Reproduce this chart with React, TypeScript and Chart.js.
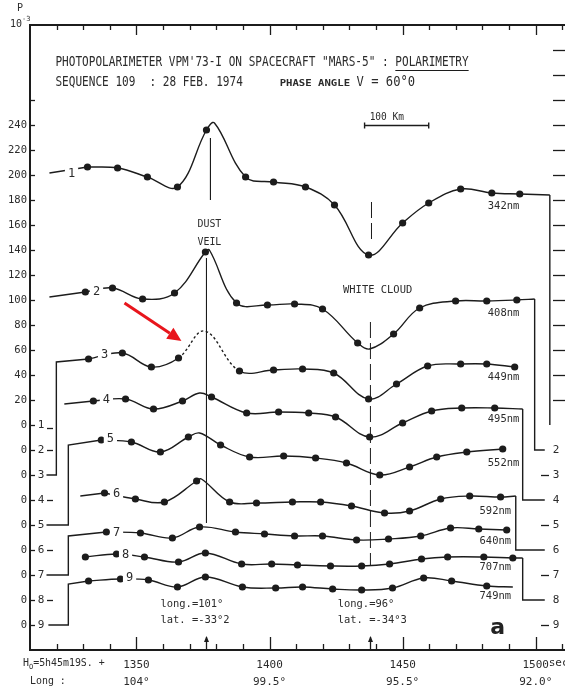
import { useEffect, useRef } from 'react';
import { Chart, registerables } from 'chart.js';

Chart.register(...registerables);

const MONO = '"DejaVu Sans Mono", "Liberation Mono", monospace';
const INK = '#1c1c1c';
const TEXT = '#2b2b2b';

// ---- measured points: time (s after H0) and polarization (10^-3, stacked offsets) ----
const sec1 = [1331.6, 1342.9, 1354.1, 1365.4, 1376.3, 1391.0, 1401.5, 1413.5, 1424.4, 1437.2, 1450.0, 1459.8, 1471.8, 1483.5, 1494.0];
const val1 = [206.4, 205.6, 198.4, 190.4, 236.0, 198.4, 194.4, 190.4, 176.0, 136.0, 161.6, 177.6, 188.8, 185.6, 184.8];
const sec2 = [1330.8, 1341.0, 1352.3, 1364.3, 1375.9, 1387.6, 1399.2, 1409.4, 1419.9, 1433.1, 1446.6, 1456.4, 1469.9, 1481.6, 1492.9];
const val2 = [106.4, 109.6, 100.8, 105.6, 138.4, 97.6, 96.0, 96.8, 92.8, 65.6, 72.8, 93.6, 99.2, 99.2, 100.0];
const sec3 = [1332.0, 1344.7, 1355.6, 1365.8, 1388.7, 1401.5, 1412.4, 1424.1, 1437.2, 1447.7, 1459.4, 1471.8, 1481.6, 1492.1];
const val3 = [52.8, 57.6, 46.4, 53.6, 43.2, 44.0, 44.8, 41.6, 20.8, 32.8, 47.2, 48.8, 48.8, 46.4];
const sec4 = [1333.8, 1345.9, 1356.4, 1367.3, 1378.2, 1391.4, 1403.4, 1414.7, 1424.8, 1437.6, 1450.0, 1460.9, 1472.2, 1484.6];
const val4 = [19.2, 20.8, 12.8, 19.2, 22.4, 9.6, 10.4, 9.6, 6.4, -9.6, 1.6, 11.2, 13.6, 13.6];
const sec5 = [1336.8, 1348.1, 1359.0, 1369.5, 1381.6, 1392.5, 1405.3, 1417.3, 1428.9, 1441.4, 1452.6, 1462.8, 1474.1, 1487.6];
const val5 = [-12.0, -13.6, -21.6, -9.6, -16.0, -25.6, -24.8, -26.4, -30.4, -40.0, -33.6, -25.6, -21.6, -19.2];
const sec6 = [1338.0, 1349.6, 1360.5, 1372.6, 1385.0, 1395.1, 1408.6, 1419.2, 1430.8, 1443.2, 1452.6, 1464.3, 1475.2, 1486.8];
const val6 = [-54.4, -59.2, -61.6, -44.8, -61.6, -62.4, -61.6, -61.6, -64.8, -70.4, -68.8, -59.2, -56.8, -57.6];
const sec7 = [1338.7, 1351.5, 1363.5, 1373.7, 1387.2, 1398.1, 1409.4, 1419.9, 1432.7, 1444.7, 1456.8, 1468.0, 1478.6, 1489.1];
const val7 = [-85.6, -86.4, -90.4, -81.6, -85.6, -87.2, -88.8, -88.8, -92.0, -91.2, -88.8, -82.4, -83.2, -84.0];
const sec8 = [1330.8, 1342.5, 1353.0, 1365.8, 1375.9, 1389.5, 1400.8, 1410.5, 1422.9, 1434.6, 1445.1, 1457.1, 1466.9, 1480.5, 1491.4];
const val8 = [-105.6, -103.2, -105.6, -109.6, -102.4, -111.2, -111.2, -112.0, -112.8, -112.8, -111.2, -107.2, -105.6, -105.6, -106.4];
const sec9 = [1332.0, 1344.0, 1354.5, 1365.4, 1375.9, 1389.8, 1402.3, 1412.4, 1423.7, 1434.6, 1446.2, 1457.9, 1468.4, 1481.6];
const val9 = [-124.8, -123.2, -124.0, -129.6, -121.6, -129.6, -130.4, -129.6, -131.2, -132.0, -130.4, -122.4, -124.8, -128.8];

// extra vertices of the drawn curves (peaks / ends, no measurement dot)
const bend1 = [[1379.3, 241.6], [1505.3, 184.0]];
const bend2 = [[1377.4, 140.0], [1437.6, 60.8], [1499.6, 100.8]];
const bend3 = [[1375.6, 75.2]];
const bend4 = [[1373.7, 25.6], [1495.1, 12.8]];
const bend5 = [[1373.7, -6.4]];
const bend6 = [[1374.4, -43.2], [1492.5, -56.8]];
const bend7: number[][] = [];
const bend8 = [[1495.1, -106.4]];
const bend9 = [[1491.4, -129.6]];

// lead-in lines (to first dot) and tail connectors (from curve end to zero level)
const lead1 = [[1317.3, 201.6]];
const lead2 = [[1317.3, 102.4]];
const lead3 = [[1316.2, -40], [1319.9, -40], [1319.9, 50.4]];
const lead4 = [[1322.9, 16.8]];
const lead5 = [[1316.2, -80], [1324.4, -80], [1324.4, -16]];
const lead6 = [[1328.9, -56.8]];
const lead7 = [[1316.2, -120], [1324.4, -120], [1324.4, -88.8]];
const lead8: number[][] = [];
const lead9 = [[1316.9, -160], [1324.4, -160], [1324.4, -127.2]];
const tail1 = [[1505.3, 0]];
const tail2 = [[1499.6, -20], [1503.4, -20]];
const tail4 = [[1495.1, -60], [1503.4, -60]];
const tail6 = [[1492.5, -100], [1503.4, -100]];
const tail8 = [[1495.1, -140], [1503.4, -140]];
const none: number[][] = [];

// dashed (uncertain) part of curve 3
const dash3 = [1365.8, 1388.7];

// curve numbers and wavelengths
const curveNo = ['1', '2', '3', '4', '5', '6', '7', '8', '9'];
const noSec = [1325.6, 1335.0, 1338.0, 1338.7, 1340.2, 1342.5, 1342.5, 1345.9, 1347.4];
const noVal = [201.0, 106.4, 56.0, 20.0, -11.2, -55.2, -86.4, -104.0, -122.4];
const waveNames = ['342nm', '408nm', '449nm', '495nm', '552nm', '592nm', '640nm', '707nm', '749nm'];
const waveSec = [1482.0, 1482.0, 1482.0, 1482.0, 1482.0, 1478.9, 1478.9, 1478.9, 1478.9];
const waveVal = [175.2, 89.6, 38.4, 4.8, -30.4, -68.8, -92.8, -113.6, -136.8];

// zero levels of the 9 curves
const levelNames = ['1', '2', '3', '4', '5', '6', '7', '8', '9'];
const levelVal = [0, -20, -40, -60, -80, -100, -120, -140, -160];

// x axis
const xTickVals = [1350, 1400, 1450, 1500];
const xTickLabels = ['1350', '1400', '1450', '1500'];
const longLabels = ['104°', '99.5°', '95.5°', '92.0°'];
const featureSec = [1376.3, 1437.9];

// feature marker lines
const dustUpper = [[1377.8, 229.6], [1377.8, 180]];
const dustLower = [[1376.3, 133.6], [1376.3, -78.4]];
const whiteUpper = [[1438.3, 178.4], [1438.3, 146.4]];
const whiteLower = [[1437.9, 82.4], [1437.9, -112]];
const scaleBar = [1435.7, 1459.8, 240];
const redArrow = [[1345.5, 97.6], [1366.9, 67.2]];

const curves = [
  { sec: sec1, val: val1, bend: bend1, lead: lead1, tail: tail1 },
  { sec: sec2, val: val2, bend: bend2, lead: lead2, tail: tail2 },
  { sec: sec3, val: val3, bend: bend3, lead: lead3, tail: none },
  { sec: sec4, val: val4, bend: bend4, lead: lead4, tail: tail4 },
  { sec: sec5, val: val5, bend: bend5, lead: lead5, tail: none },
  { sec: sec6, val: val6, bend: bend6, lead: lead6, tail: tail6 },
  { sec: sec7, val: val7, bend: bend7, lead: lead7, tail: none },
  { sec: sec8, val: val8, bend: bend8, lead: lead8, tail: tail8 },
  { sec: sec9, val: val9, bend: bend9, lead: lead9, tail: none },
];

type Pt = { x: number; y: number; dot?: boolean };
const toPts = (a: number[][]): Pt[] => a.map(([x, y]) => ({ x, y }));

function buildDatasets() {
  const ds: any[] = [];
  const line = (data: Pt[], extra: any = {}) => ({
    data, borderColor: INK, borderWidth: 1.4, pointRadius: 0, tension: 0, fill: false, ...extra,
  });
  curves.forEach((c, idx) => {
    const pts: Pt[] = c.sec.map((s, i) => ({ x: s, y: c.val[i], dot: true }));
    c.bend.forEach(([x, y]) => pts.push({ x, y, dot: false }));
    pts.sort((a, b) => a.x - b.x);
    const extra: any = {
      tension: 0.38,
      pointRadius: (ctx: any) => (ctx.raw && ctx.raw.dot ? 3.6 : 0),
      pointBackgroundColor: INK,
      pointBorderColor: INK,
      pointBorderWidth: 0,
    };
    if (idx === 2) {
      extra.segment = {
        borderDash: (ctx: any) =>
          ctx.p0.parsed.x >= dash3[0] - 0.01 && ctx.p1.parsed.x <= dash3[1] + 0.01 ? [2.5, 2.5] : undefined,
      };
    }
    ds.push(line(pts, extra));
    if (c.lead.length) ds.push(line([...toPts(c.lead), { x: pts[0].x, y: pts[0].y }]));
    if (c.tail.length) {
      const last = pts[pts.length - 1];
      ds.push(line([{ x: last.x, y: last.y }, ...toPts(c.tail)]));
    }
  });
  ds.push(line(toPts(dustUpper), { borderWidth: 1 }));
  ds.push(line(toPts(dustLower), { borderWidth: 1 }));
  ds.push(line(toPts(whiteUpper), { borderWidth: 1, borderDash: [16, 5] }));
  ds.push(line(toPts(whiteLower), { borderWidth: 1, borderDash: [16, 5] }));
  return ds;
}

function txt(
  ctx: CanvasRenderingContext2D, s: string, x: number, y: number,
  o: { size?: number; sx?: number; align?: string; weight?: string; family?: string; color?: string; bg?: boolean; baseline?: CanvasTextBaseline } = {},
) {
  const size = o.size ?? 11;
  const sx = o.sx ?? 1;
  ctx.save();
  ctx.font = `${o.weight ?? 'normal'} ${size}px ${o.family ?? MONO}`;
  ctx.textBaseline = o.baseline ?? 'middle';
  ctx.textAlign = 'left';
  const w = ctx.measureText(s).width * sx;
  const x0 = o.align === 'center' ? x - w / 2 : o.align === 'right' ? x - w : x;
  if (o.bg) {
    ctx.fillStyle = '#fff';
    ctx.fillRect(x0 - 3, y - size * 0.55, w + 6, size * 1.1);
  }
  ctx.fillStyle = o.color ?? TEXT;
  ctx.translate(x0, y);
  ctx.scale(sx, 1);
  ctx.fillText(s, 0, 0);
  ctx.restore();
  return { x0, w };
}

const decor = {
  id: 'decor',
  afterDraw(chart: any) {
    const ctx: CanvasRenderingContext2D = chart.ctx;
    const xs = chart.scales.x;
    const ys = chart.scales.y;
    const { left, right, top, bottom } = chart.chartArea;
    const X = (v: number) => xs.getPixelForValue(v);
    const Y = (v: number) => ys.getPixelForValue(v);
    ctx.save();
    ctx.strokeStyle = INK;
    ctx.lineCap = 'butt';

    // top frame
    ctx.lineWidth = 2;
    ctx.beginPath();
    ctx.moveTo(left - 1, top);
    ctx.lineTo(right, top);
    ctx.stroke();

    // inward ticks top / bottom
    ctx.lineWidth = 1.3;
    for (let v = 1320; v <= 1510; v += 10) {
      const major = v % 50 === 0;
      const px = Math.round(X(v)) + 0.5;
      ctx.beginPath();
      ctx.moveTo(px, top);
      ctx.lineTo(px, top + (major ? 10 : 5));
      ctx.moveTo(px, bottom);
      ctx.lineTo(px, bottom - (major ? 13 : 6));
      ctx.stroke();
    }
    // feature arrows on bottom axis
    featureSec.forEach((v) => {
      const px = Math.round(X(v)) + 0.5;
      ctx.beginPath();
      ctx.moveTo(px, bottom);
      ctx.lineTo(px, bottom - 13);
      ctx.stroke();
      ctx.beginPath();
      ctx.moveTo(px, bottom - 14);
      ctx.lineTo(px - 2.5, bottom - 8);
      ctx.lineTo(px + 2.5, bottom - 8);
      ctx.closePath();
      ctx.fillStyle = INK;
      ctx.fill();
    });
    // inward ticks left axis
    for (let v = -160; v <= 260; v += 20) {
      const py = Math.round(Y(v)) + 0.5;
      ctx.beginPath();
      ctx.moveTo(left, py);
      ctx.lineTo(left + 5, py);
      ctx.stroke();
    }
    // right side ticks
    for (let v = 20; v <= 300; v += 20) {
      const py = Math.round(Y(v)) + 0.5;
      ctx.beginPath();
      ctx.moveTo(right - 12, py);
      ctx.lineTo(right, py);
      ctx.stroke();
    }
    // zero-level numbers left and right
    levelNames.forEach((n, i) => {
      const py = Y(levelVal[i]);
      txt(ctx, n, left + 11, py, { size: 11, align: 'center' });
      if (i % 2 === 1 || i === 0) {
        ctx.beginPath();
        ctx.moveTo(left + 17, Math.round(py) + 0.5 + (i === 0 ? 3 : 0));
        ctx.lineTo(left + 23, Math.round(py) + 0.5 + (i === 0 ? 3 : 0));
        ctx.stroke();
      }
      if (i >= 1) {
        txt(ctx, n, right - 9, py, { size: 11, align: 'center' });
        if (i % 2 === 0) {
          ctx.beginPath();
          ctx.moveTo(right - 24, Math.round(py) + 0.5);
          ctx.lineTo(right - 16, Math.round(py) + 0.5);
          ctx.stroke();
        }
      }
    });

    // curve numbers (on the lines)
    curveNo.forEach((n, i) => txt(ctx, n, X(noSec[i]), Y(noVal[i]), { size: 12, align: 'center', bg: true }));
    // wavelengths
    waveNames.forEach((n, i) => txt(ctx, n, X(waveSec[i]), Y(waveVal[i]), { size: 11, sx: 0.95 }));

    // header
    const h1 = 'PHOTOPOLARIMETER VPM\'73-I ON SPACECRAFT "MARS-5" : ';
    const h1b = 'POLARIMETRY';
    const a = txt(ctx, h1, X(1319.55), Y(287.2), { size: 13.5, sx: 0.82, baseline: 'alphabetic' });
    const b = txt(ctx, h1b, a.x0 + a.w, Y(287.2), { size: 13.5, sx: 0.82, baseline: 'alphabetic' });
    ctx.lineWidth = 1.2;
    ctx.beginPath();
    ctx.moveTo(b.x0, Y(287.2) + 4.5);
    ctx.lineTo(b.x0 + b.w, Y(287.2) + 4.5);
    ctx.stroke();
    txt(ctx, 'SEQUENCE 109', X(1319.55), Y(271.2), { size: 13.5, sx: 0.82, baseline: 'alphabetic' });
    txt(ctx, ': 28 FEB. 1974', X(1354.9), Y(271.2), { size: 13.5, sx: 0.82, baseline: 'alphabetic' });
    txt(ctx, 'PHASE ANGLE', X(1403.8), Y(271.2), { size: 8.5, sx: 1.25, baseline: 'alphabetic', weight: 'bold' });
    txt(ctx, 'V = 60°0', X(1432.7), Y(271.2), { size: 13.5, sx: 0.9, baseline: 'alphabetic' });

    // scale bar
    txt(ctx, '100 Km', X(1437.6), Y(244), { size: 10, sx: 0.95, baseline: 'alphabetic' });
    ctx.lineWidth = 1.4;
    const sb0 = X(scaleBar[0]);
    const sb1 = X(scaleBar[1]);
    const sby = Math.round(Y(scaleBar[2])) + 0.5;
    ctx.beginPath();
    ctx.moveTo(sb0, sby);
    ctx.lineTo(sb1, sby);
    ctx.moveTo(sb0, sby - 3);
    ctx.lineTo(sb0, sby + 3);
    ctx.moveTo(sb1, sby - 3);
    ctx.lineTo(sb1, sby + 3);
    ctx.stroke();

    // feature texts
    txt(ctx, 'DUST', X(1377.4), Y(160.8), { size: 11, sx: 0.9, align: 'center' });
    txt(ctx, 'VEIL', X(1377.4), Y(146.4), { size: 11, sx: 0.9, align: 'center' });
    txt(ctx, 'WHITE CLOUD', X(1440.6), Y(108), { size: 11, sx: 0.95, align: 'center' });
    txt(ctx, 'long.=101°', X(1359.0), Y(-143.2), { size: 11, sx: 0.95 });
    txt(ctx, 'lat. =-33°2', X(1359.0), Y(-156), { size: 11, sx: 0.95 });
    txt(ctx, 'long.=96°', X(1425.6), Y(-143.2), { size: 11, sx: 0.95 });
    txt(ctx, 'lat. =-34°3', X(1425.6), Y(-156), { size: 11, sx: 0.95 });
    txt(ctx, 'a', X(1485.7), Y(-162.4), { size: 22, weight: 'bold', family: '"DejaVu Sans", sans-serif', align: 'center', color: '#222' });

    // axis captions outside
    txt(ctx, 'P', left - 13, top - 17, { size: 10 });
    txt(ctx, '10', left - 8, top - 1, { size: 10, align: 'right' });
    txt(ctx, '-3', left - 8, top - 6, { size: 7 });
    const h = txt(ctx, 'H', 23, bottom + 13, { size: 11, sx: 0.9 });
    const o = txt(ctx, 'O', h.x0 + h.w, bottom + 17, { size: 7 });
    txt(ctx, '=5h45m19S. +', o.x0 + o.w, bottom + 13, { size: 11, sx: 0.9 });
    txt(ctx, 'Long :', 30, bottom + 31, { size: 11, sx: 0.9 });
    txt(ctx, 'sec', X(1500) + 13, bottom + 13, { size: 11 });

    // red arrow
    const p0 = [X(redArrow[0][0]), Y(redArrow[0][1])];
    const p1 = [X(redArrow[1][0]), Y(redArrow[1][1])];
    const ang = Math.atan2(p1[1] - p0[1], p1[0] - p0[0]);
    const hl = 14;
    const hw = 6.5;
    const bx = p1[0] - hl * Math.cos(ang);
    const by = p1[1] - hl * Math.sin(ang);
    ctx.strokeStyle = '#e8151c';
    ctx.fillStyle = '#e8151c';
    ctx.lineWidth = 3;
    ctx.beginPath();
    ctx.moveTo(p0[0], p0[1]);
    ctx.lineTo(bx, by);
    ctx.stroke();
    ctx.beginPath();
    ctx.moveTo(p1[0], p1[1]);
    ctx.lineTo(bx + hw * Math.sin(ang), by - hw * Math.cos(ang));
    ctx.lineTo(bx - hw * Math.sin(ang), by + hw * Math.cos(ang));
    ctx.closePath();
    ctx.fill();
    ctx.restore();
  },
};

export default function App() {
  const ref = useRef<HTMLCanvasElement>(null);
  useEffect(() => {
    document.body.style.margin = '0';
    const canvas = ref.current!;
    const chart = new Chart(canvas, {
      type: 'line',
      data: { datasets: buildDatasets() },
      options: {
        responsive: false,
        devicePixelRatio: 1,
        animation: false,
        events: [],
        layout: { autoPadding: false, padding: { top: 25, left: 0, right: 0, bottom: 0 } },
        plugins: { legend: { display: false }, tooltip: { enabled: false } },
        scales: {
          x: {
            type: 'linear',
            min: 1310,
            max: 1511,
            position: 'bottom',
            grid: { display: false, drawTicks: false },
            border: { display: true, color: INK, width: 2 },
            afterFit: (s: any) => {
              s.height = 38;
              s.paddingLeft = 0;
              s.paddingRight = 0;
            },
            ticks: {
              stepSize: 10,
              autoSkip: false,
              maxRotation: 0,
              padding: 6,
              color: TEXT,
              font: { family: MONO, size: 11, lineHeight: 1.6 },
              callback: (v: any) => {
                const i = xTickVals.indexOf(Number(v));
                return i >= 0 ? [xTickLabels[i], longLabels[i]] : '';
              },
            },
          },
          y: {
            type: 'linear',
            min: -180,
            max: 320,
            grid: { display: false, drawTicks: false },
            border: { display: true, color: INK, width: 2 },
            afterFit: (s: any) => {
              s.width = 30;
              s.paddingTop = 0;
              s.paddingBottom = 0;
            },
            ticks: {
              stepSize: 20,
              autoSkip: false,
              padding: 3,
              color: TEXT,
              font: { family: MONO, size: 10.5 },
              callback: (v: any) => {
                const n = Number(v);
                if (n > 0 && n <= 240) return String(n);
                if (n <= 0 && n >= -160) return '0';
                return '';
              },
            },
          },
        },
      } as any,
      plugins: [decor],
    });
    return () => chart.destroy();
  }, []);
  return (
    <div style={{ width: 565, height: 688, background: '#fff' }}>
      <canvas ref={ref} width={565} height={688} style={{ display: 'block', width: 565, height: 688 }} />
    </div>
  );
}
